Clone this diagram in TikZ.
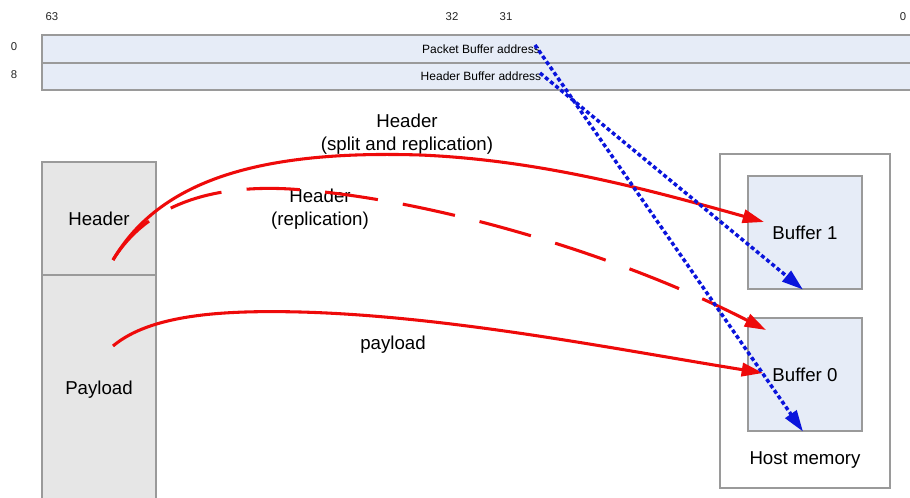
\documentclass[tikz,border=0pt]{standalone}
\usepackage{fontspec}
\setmainfont{Liberation Sans}
\usetikzlibrary{arrows.meta}
\definecolor{regfill}{HTML}{E6ECF7}
\definecolor{pktfill}{HTML}{E6E6E6}
\definecolor{boxline}{HTML}{9A9A9A}
\definecolor{arrred}{HTML}{EE0A0A}
\definecolor{arrblue}{HTML}{0A14DC}
\tikzset{
  regrow/.style={draw=boxline, fill=regfill, line width=1pt, inner sep=0pt, minimum width=658.5pt, minimum height=#1, font=\fontsize{9}{10}\selectfont},
  pktbox/.style={draw=boxline, fill=pktfill, line width=0.9pt, inner sep=0pt, minimum width=85.5pt, minimum height=#1, font=\fontsize{14}{16}\selectfont},
  bufbox/.style={draw=boxline, fill=regfill, line width=0.9pt, inner sep=0pt, minimum width=85.5pt, minimum height=84.75pt, font=\fontsize{14}{16}\selectfont},
  hostbox/.style={draw=boxline, fill=white, line width=0.9pt, inner sep=0pt, minimum width=127.5pt, minimum height=250.5pt},
  biglabel/.style={font=\fontsize{14}{17}\selectfont, align=center, inner sep=0pt},
  bitlabel/.style={font=\fontsize{8.5}{9}\selectfont, inner sep=0pt, text=black!85},
  redarrow/.style={draw=arrred, line width=2.3pt, -{Triangle[length=16pt,width=10pt]}},
  reddash/.style={redarrow, dash pattern=on 40pt off 19pt},
  bluearrow/.style={draw=arrblue, line width=2.6pt, dash pattern=on 3pt off 2pt, -{Triangle[length=16pt,width=10pt]}},
}
\begin{document}
\begin{tikzpicture}[x=0.75pt,y=-0.75pt]
\useasboundingbox (0,0) rectangle (910,498);
% bit labels
\node[bitlabel] (b63) at (52,17) {63};
\node[bitlabel] (b32) at (452,17) {32};
\node[bitlabel] (b31) at (506,17) {31};
\node[bitlabel] (b0) at (903,17) {0};
\node[bitlabel] (o0) at (14,47) {0};
\node[bitlabel] (o8) at (14,75) {8};
% register rows
\node[regrow=21pt] (reg0) at (481,49) {Packet Buffer address};
\node[regrow=20.25pt] (reg8) at (481,76.5) {Header Buffer address};
% packet
\node[pktbox=84.75pt] (hdr) at (99,218.5) {Header};
\node[pktbox=172.5pt] (pay) at (99,390) {Payload};
% host memory
\node[hostbox] (host) at (805,321) {};
\node[bufbox] (buf1) at (805,232.5) {Buffer 1};
\node[bufbox] (buf0) at (805,374.5) {Buffer 0};
\node[biglabel] (hostlbl) at (805,460) {Host memory};
% labels
\node[biglabel] (lsplit) at (407,134) {Header\\(split and replication)};
\node[biglabel] (lrep) at (320,209) {Header\\(replication)};
\node[biglabel] (lpay) at (393,345) {payload};
% coordinates
\coordinate (hs) at (113,260);
\coordinate (ps) at (113,346);
\coordinate (t1) at (764,222);
\coordinate (t2) at (766,330);
\coordinate (t3) at (763,373);
\coordinate (pa) at (535,45);
\coordinate (ha) at (540,73);
% red arrows
\draw[redarrow] (hs) .. controls (160,180) and (260,150) .. (420,155)
  .. controls (540,160) and (650,190) .. (t1);
\draw[reddash] (hs) .. controls (150,200) and (220,185) .. (290,189)
  .. controls (430,198) and (620,255) .. (t2);
\draw[redarrow] (ps) .. controls (150,315) and (220,310) .. (300,312)
  .. controls (450,316) and (620,350) .. (t3);
% blue arrows
\draw[bluearrow] (pa) -- ([xshift=-1.5pt]buf0.south);
\draw[bluearrow] (ha) -- ([xshift=-1.5pt]buf1.south);
\end{tikzpicture}
\end{document}
